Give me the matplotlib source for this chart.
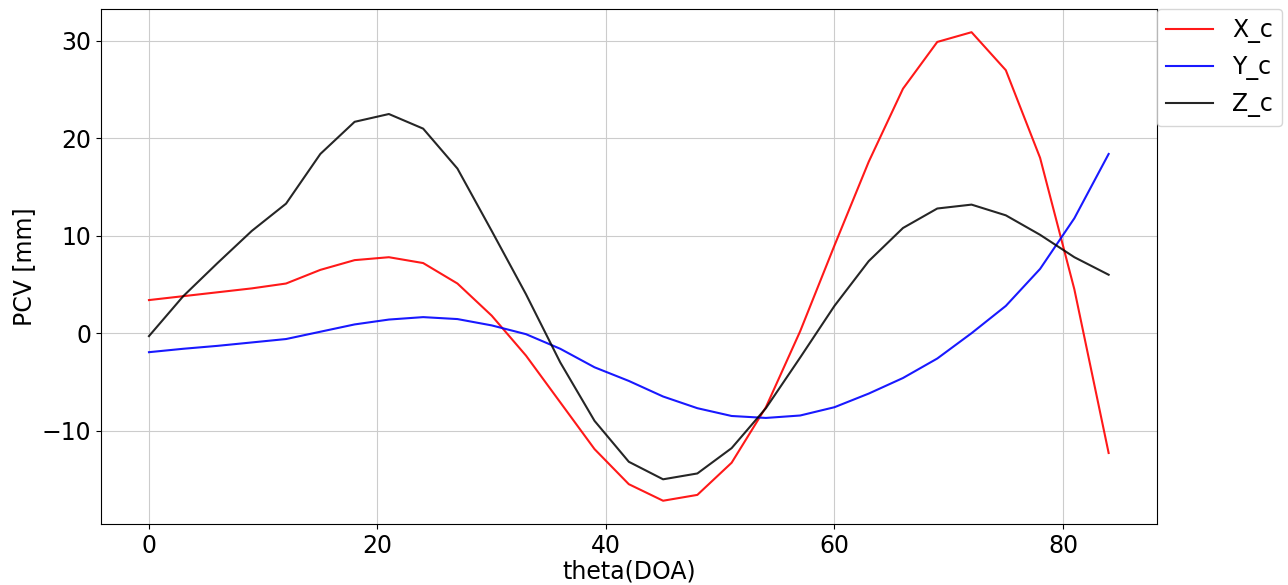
import numpy as np
import matplotlib
matplotlib.use("Agg")
import matplotlib.pyplot as plt

theta = list(range(0, 85, 3))
x_c = [3.4, 3.8, 4.2, 4.6, 5.1, 6.5, 7.5, 7.8, 7.2, 5.1, 1.8, -2.3, -7.1, -11.9,
       -15.5, -17.2, -16.6, -13.3, -7.6, 0.2, 9.0, 17.6, 25.1, 29.9, 30.9, 27.0,
       18.0, 4.5, -12.3]
y_c = [-1.95, -1.6, -1.3, -0.95, -0.6, 0.15, 0.9, 1.4, 1.65, 1.45, 0.8, -0.1,
       -1.6, -3.5, -4.9, -6.5, -7.7, -8.5, -8.7, -8.45, -7.6, -6.2, -4.6, -2.6,
       0.0, 2.8, 6.6, 11.8, 18.4]
z_c = [-0.3, 3.8, 7.2, 10.5, 13.3, 18.4, 21.7, 22.5, 21.0, 16.9, 10.5, 4.0,
       -3.0, -9.0, -13.2, -15.0, -14.4, -11.8, -7.7, -2.5, 2.8, 7.4, 10.8, 12.8,
       13.2, 12.1, 10.1, 7.8, 6.0]

fig = plt.figure(figsize=(12.88, 5.85), dpi=100)
ax = fig.add_axes([0.0784, 0.104, 0.8196, 0.881])
ax.plot(theta, x_c, color='red', alpha=0.9, lw=1.5, label='X_c')
ax.plot(theta, y_c, color='blue', alpha=0.9, lw=1.5, label='Y_c')
ax.plot(theta, z_c, color='black', alpha=0.85, lw=1.5, label='Z_c')
ax.grid(True, color='#cccccc')
ax.tick_params(labelsize=17)
ax.set_xlabel('theta(DOA)', fontsize=17, labelpad=1)
ax.set_ylabel('PCV [mm]', fontsize=17)
ax.legend(loc='upper left', bbox_to_anchor=(1.0, 1.0), borderaxespad=0, fontsize=17)
fig.savefig('out.png', dpi=100)
